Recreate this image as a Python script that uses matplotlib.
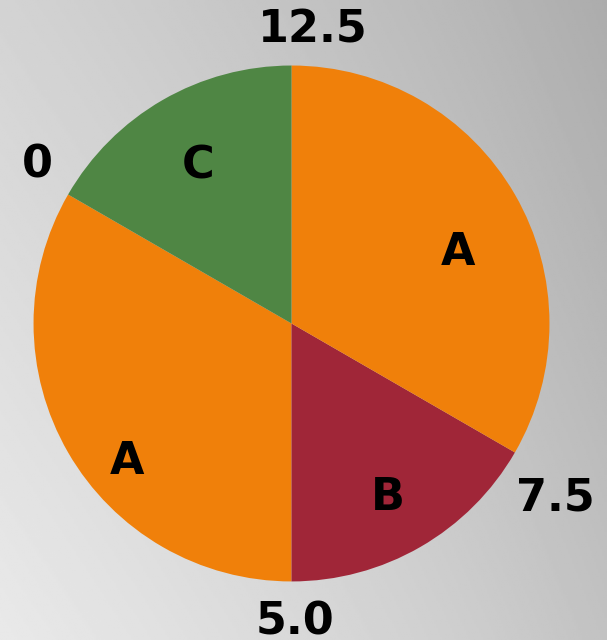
import numpy as np
import matplotlib.pyplot as plt

# slices, counterclockwise from the "0" mark
labels = ["A", "B", "A", "C"]
values = [5.0, 2.5, 5.0, 2.5]
colors = ["#F0800A", "#A02638", "#F0800A", "#4F8644"]
tick_labels = ["0", "5.0", "7.5", "12.5"]

start = 150
fig = plt.figure(figsize=(6.07, 6.40), dpi=100)

# grey gradient background
bg = fig.add_axes([0, 0, 1, 1])
xx, yy = np.meshgrid(np.linspace(0, 1, 300), np.linspace(0, 1, 300))
shade = 233 - 31 * xx - 22 * yy - 8 * xx ** 3
bg.imshow(shade, cmap="gray", vmin=0, vmax=255, origin="lower",
          extent=[0, 1, 0, 1], aspect="auto")
bg.axis("off")

ax = fig.add_axes([0, 0, 1, 1])
ax.patch.set_alpha(0)
ax.pie(values, colors=colors, startangle=start, counterclock=True,
       wedgeprops=dict(linewidth=0))
ax.set_xlim(-1.13, 1.223)
ax.set_ylim(-1.227, 1.254)
ax.set_aspect("equal")
ax.axis("off")

fs = 32
cum = np.concatenate([[0], np.cumsum(values)])
total = cum[-1]

# slice labels
rad = [0.83, 0.77, 0.70, 0.71]
shift = [10, -1, -7, 0.5]
for i, lab in enumerate(labels):
    mid = start + 360 * (cum[i] + cum[i + 1]) / 2 / total + shift[i]
    t = np.deg2rad(mid)
    ax.text(rad[i] * np.cos(t), rad[i] * np.sin(t), lab, fontsize=fs,
            fontweight="bold", ha="center", va="center")

# boundary value labels
offs = [(3, 10), (3, -2), (7, -26), (21, -3)]
for i, lab in enumerate(tick_labels):
    t = np.deg2rad(start + 360 * cum[i] / total)
    ax.annotate(lab, (1.15 * np.cos(t), 1.15 * np.sin(t)),
                xytext=offs[i], textcoords="offset pixels",
                fontsize=fs, fontweight="bold", ha="center", va="center")

fig.savefig("out.png", dpi=100)
